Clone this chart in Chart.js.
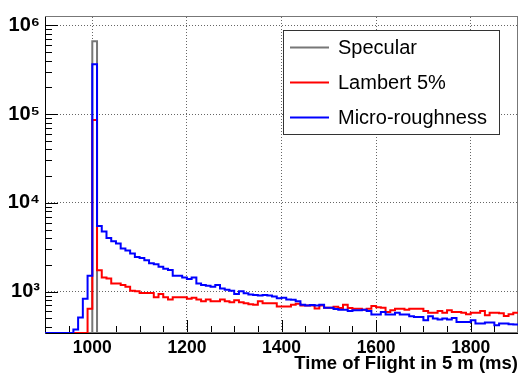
<!DOCTYPE html>
<html>
<head>
<meta charset="utf-8">
<script src="https://cdn.jsdelivr.net/npm/chart.js@4"></script>
<style>body{margin:0;background:#fff}</style>
</head>
<body>
<canvas id="tof" width="520" height="374"></canvas>
<script>
// histogram bins: 900 .. 1900 ms, 10 ms wide
const binStart = 900;
const binWidth = 10;

const specular = [
  0, 0, 0, 0, 0, 0, 0, 0, 0, 0,
  660000, 0, 0, 0, 0, 0, 0, 0, 0, 0,
  0, 0, 0, 0, 0, 0, 0, 0, 0, 0,
  0, 0, 0, 0, 0, 0, 0, 0, 0, 0,
  0, 0, 0, 0, 0, 0, 0, 0, 0, 0,
  0, 0, 0, 0, 0, 0, 0, 0, 0, 0,
  0, 0, 0, 0, 0, 0, 0, 0, 0, 0,
  0, 0, 0, 0, 0, 0, 0, 0, 0, 0,
  0, 0, 0, 0, 0, 0, 0, 0, 0, 0,
  0, 0, 0, 0, 0, 0, 0, 0, 0, 0
];
const lambert = [
  0, 0, 0, 0, 0, 0, 0, 0, 0, 642,
  86000, 1742, 1442, 1406, 1237, 1237, 1187, 1136, 1026, 1008,
  967, 967, 967, 864, 942, 864, 815, 864, 864, 864,
  829, 851, 815, 780, 815, 780, 780, 815, 780, 760,
  800, 760, 742, 720, 710, 780, 742, 742, 742, 681,
  681, 681, 711, 730, 699, 699, 699, 647, 699, 659,
  659, 676, 653, 711, 653, 642, 642, 626, 642, 687,
  669, 659, 589, 615, 642, 642, 626, 642, 642, 642,
  604, 580, 580, 604, 580, 615, 589, 589, 580, 555,
  580, 580, 604, 541, 580, 580, 570, 532, 555, 580
];
const micro = [
  0, 0, 0, 0, 0, 0, 375, 510, 830, 1506,
  365000, 5500, 4760, 4010, 3690, 3480, 3060, 2900, 2690, 2450,
  2390, 2250, 2090, 2030, 1910, 1815, 1755, 1505, 1505, 1442,
  1384, 1442, 1237, 1187, 1166, 1136, 1187, 1088, 1052, 1026,
  942, 1010, 960, 926, 915, 903, 919, 903, 880, 843,
  851, 815, 809, 780, 711, 699, 705, 699, 711, 659,
  659, 636, 626, 626, 604, 615, 615, 626, 604, 551,
  551, 589, 551, 551, 580, 551, 551, 527, 518, 518,
  476, 527, 497, 485, 497, 485, 505, 456, 456, 456,
  476, 437, 437, 449, 449, 419, 437, 437, 430, 425
];

const seriesNames = ['Specular', 'Lambert 5%', 'Micro-roughness'];
const seriesColors = ['#777777', '#ff0000', '#0000ff'];
const xTicks = [1000, 1200, 1400, 1600, 1800];
const yTicks = [1e3, 1e4, 1e5, 1e6];
const xTitle = 'Time of Flight in 5 m (ms)';

const xMin = 900, xMax = 1900;
const yMin = 342, yMax = 1.24e6;
const sup = {3: '\u00b3', 4: '\u2074', 5: '\u2075', 6: '\u2076'};

// empty bins sit on the bottom of the frame, like ROOT does
function histPoints(values) {
  const pts = values.map((v, i) => ({x: binStart + i * binWidth, y: v > 0 ? v : yMin}));
  pts.push({x: binStart + values.length * binWidth, y: pts[pts.length - 1].y});
  return pts;
}

const frameTicks = {
  id: 'frameTicks',
  beforeDatasetsDraw(chart) {
    const c = chart.ctx, a = chart.chartArea;
    const xs = chart.scales.x, ys = chart.scales.y;
    c.save();
    c.strokeStyle = '#777';
    c.lineWidth = 1;
    c.strokeRect(a.left + 0.5, a.top - 0.5, a.right - a.left - 1, a.bottom - a.top);
    c.strokeStyle = '#000';
    c.beginPath();
    c.moveTo(a.left + 0.5, a.top);
    c.lineTo(a.left + 0.5, a.bottom + 0.5);
    c.lineTo(a.right, a.bottom + 0.5);
    // x ticks every 50, long ones on the labelled values
    for (let v = xMin + 50; v < xMax; v += 50) {
      const px = Math.round(xs.getPixelForValue(v)) + 0.5;
      const len = xTicks.includes(v) ? 13 : 7;
      c.moveTo(px, a.bottom);
      c.lineTo(px, a.bottom - len);
    }
    // log minor ticks on y
    for (let d = 100; d <= 1e6; d *= 10) {
      for (let k = 1; k <= 9; k++) {
        const v = k * d;
        if (v < yMin || v > yMax) continue;
        const py = Math.round(ys.getPixelForValue(v)) + 0.5;
        const len = k === 1 ? 13 : 7;
        c.moveTo(a.left, py);
        c.lineTo(a.left + len, py);
      }
    }
    c.stroke();
    c.restore();
  }
};

const legendBox = {
  id: 'legendBox',
  afterDraw(chart) {
    const c = chart.ctx;
    c.save();
    c.fillStyle = '#fff';
    c.fillRect(283.5, 30.5, 216, 104);
    c.strokeStyle = '#333';
    c.lineWidth = 1;
    c.strokeRect(283.5, 30.5, 216, 104);
    c.font = '20px "Liberation Sans", Arial, sans-serif';
    c.textBaseline = 'middle';
    seriesNames.forEach((name, i) => {
      const y = 47.5 + i * 35;
      c.strokeStyle = seriesColors[i];
      c.lineWidth = 2;
      c.beginPath();
      c.moveTo(290, y);
      c.lineTo(329, y);
      c.stroke();
      c.fillStyle = '#000';
      c.fillText(name, 338, y + 1);
    });
    c.restore();
  }
};

const boldFont = size => ({family: '"Liberation Sans", Arial, sans-serif', weight: 'bold', size: size});

new Chart(document.getElementById('tof').getContext('2d'), {
  type: 'line',
  data: {
    datasets: [
      {label: seriesNames[0], data: histPoints(specular), borderColor: seriesColors[0], borderWidth: 2, stepped: 'before', pointRadius: 0, order: 2},
      {label: seriesNames[1], data: histPoints(lambert), borderColor: seriesColors[1], borderWidth: 2, stepped: 'before', pointRadius: 0, order: 1},
      {label: seriesNames[2], data: histPoints(micro), borderColor: seriesColors[2], borderWidth: 2, stepped: 'before', pointRadius: 0, order: 0}
    ]
  },
  options: {
    responsive: false,
    animation: false,
    devicePixelRatio: 1,
    layout: {padding: {top: 14, right: 2, left: 0, bottom: 0}},
    plugins: {legend: {display: false}, tooltip: {enabled: false}},
    scales: {
      x: {
        type: 'linear', min: xMin, max: xMax,
        afterBuildTicks: s => { s.ticks = xTicks.map(v => ({value: v})); },
        afterFit: s => { s.height = 41; },
        grid: {color: '#666', lineWidth: 1, drawTicks: false},
        border: {display: false, dash: [1, 2]},
        ticks: {padding: 5, color: '#000', maxRotation: 0, font: boldFont(17.5), callback: v => String(v)},
        title: {display: true, text: xTitle, align: 'end', color: '#000', font: boldFont(18.5), padding: {top: 0, bottom: -1}}
      },
      y: {
        type: 'logarithmic', min: yMin, max: yMax,
        afterBuildTicks: s => { s.ticks = yTicks.map(v => ({value: v})); },
        afterFit: s => { s.width = 45; },
        grid: {color: '#666', lineWidth: 1, drawTicks: false},
        border: {display: false, dash: [1, 2]},
        ticks: {
          padding: 5, color: '#000', font: boldFont(20),
          callback: v => '10' + sup[Math.round(Math.log10(v))]
        }
      }
    }
  },
  plugins: [frameTicks, legendBox]
});
</script>
</body>
</html>
